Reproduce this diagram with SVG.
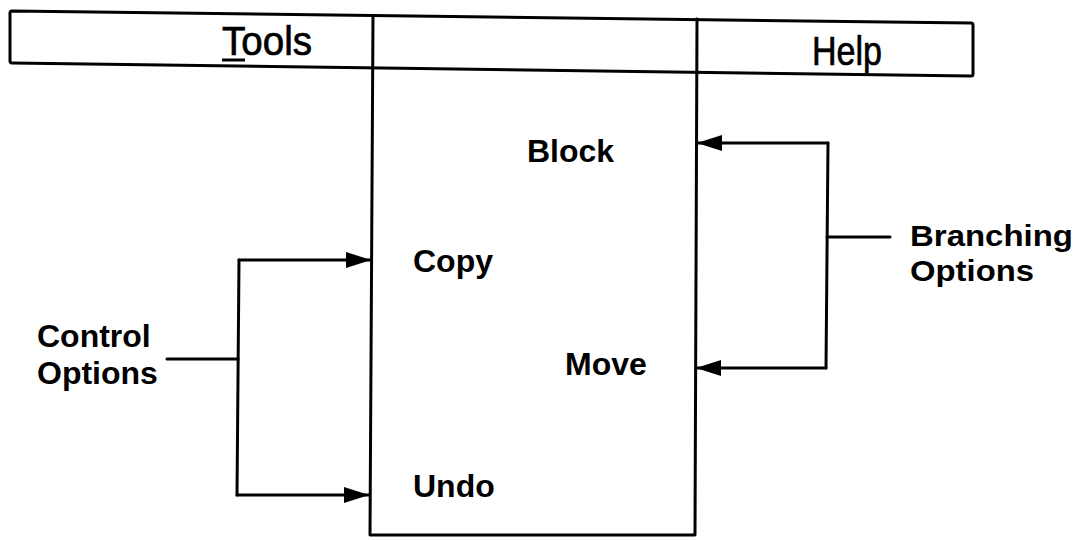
<svg xmlns="http://www.w3.org/2000/svg" width="1077" height="540" viewBox="0 0 1077 540">
<style>
  .ln { fill: none; stroke: #000; stroke-width: 3; stroke-linejoin: round; stroke-linecap: round; }
  .menu { font-family: "Liberation Sans", Arial, sans-serif; font-size: 40px; fill: #000; stroke: #000; stroke-width: 0.7; }
  .lbl { font-family: "Liberation Sans", Arial, sans-serif; font-size: 32px; font-weight: bold; fill: #000; }
  .lbl2 { font-family: "Liberation Sans", Arial, sans-serif; font-size: 30px; font-weight: bold; fill: #000; }
</style>
<defs>
  <marker id="ah" viewBox="0 0 25 16" refX="25" refY="8" markerWidth="25" markerHeight="16" markerUnits="userSpaceOnUse" orient="auto">
    <path d="M0,0 L25,8 L0,16 Z" fill="#000"/>
  </marker>
</defs>
<rect width="1077" height="540" fill="#fff"/>
<g id="menubar">
  <path class="ln" d="M12,11 L971,23 Q973,23 973,25 L973,74 Q973,76 971,76 L12,63 Q10,63 10,61 L10,13 Q10,11 12,11 Z"/>
  <text class="menu" x="222" y="55" textLength="90" lengthAdjust="spacingAndGlyphs">Tools</text>
  <line x1="222" y1="60" x2="245" y2="60" stroke="#000" stroke-width="3"/>
  <text class="menu" x="812" y="65" textLength="70" lengthAdjust="spacingAndGlyphs">Help</text>
</g>
<g id="menu">
  <path class="ln" d="M373,16 L370,535 L695,535 L697,19"/>
</g>
<g id="block"><text class="lbl" x="527" y="162">Block</text></g>
<g id="copy"><text class="lbl" x="413" y="272">Copy</text></g>
<g id="move"><text class="lbl" x="565" y="375">Move</text></g>
<g id="undo"><text class="lbl" x="413" y="497">Undo</text></g>
<g id="control-options">
  <text class="lbl" x="37" y="347">Control</text>
  <text class="lbl" x="37" y="384">Options</text>
</g>
<g id="branching-options">
  <text class="lbl2" x="910" y="246" textLength="163" lengthAdjust="spacingAndGlyphs">Branching</text>
  <text class="lbl2" x="910" y="281" textLength="124" lengthAdjust="spacingAndGlyphs">Options</text>
</g>
<g id="connectors">
  <path class="ln" d="M167,359 L238,359"/>
  <path class="ln" d="M239,260 L237,495"/>
  <path class="ln" d="M239,260 L371,260" marker-end="url(#ah)"/>
  <path class="ln" d="M237,495 L369,495" marker-end="url(#ah)"/>
  <path class="ln" d="M890,237 L827,237"/>
  <path class="ln" d="M828,143 L826,368"/>
  <path class="ln" d="M828,143 L697,143" marker-end="url(#ah)"/>
  <path class="ln" d="M826,368 L696,368" marker-end="url(#ah)"/>
</g>
</svg>
